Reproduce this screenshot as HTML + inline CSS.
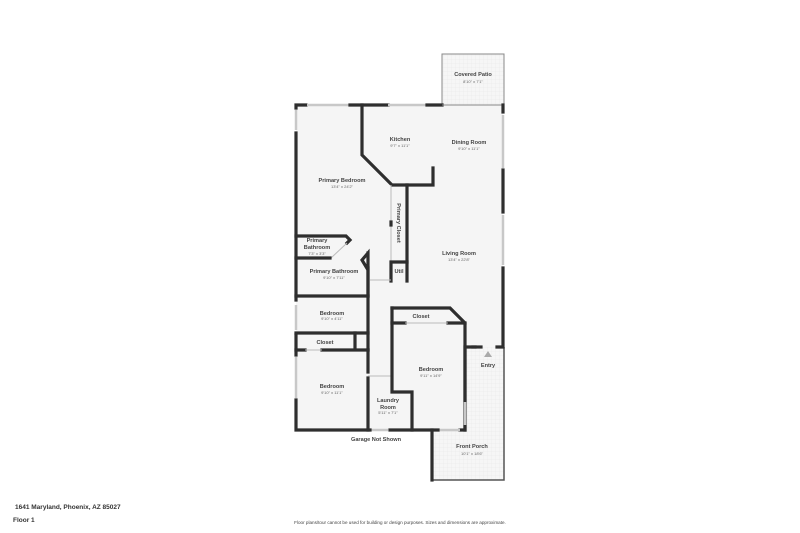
<!DOCTYPE html>
<html><head><meta charset="utf-8"><style>
html,body{margin:0;padding:0;background:#fff;width:800px;height:533px;overflow:hidden}
svg{display:block}
text{font-family:"Liberation Sans",sans-serif;fill:#444}
.t{font-size:5.6px;font-weight:bold;text-anchor:middle}
.s{font-size:4px;text-anchor:middle;fill:#666}
.w{stroke:#2e2e2e;stroke-width:3.2;fill:none;stroke-linecap:square}
.win{stroke:#c8c8c8;stroke-width:2.5}
</style></head><body>
<svg width="800" height="533" viewBox="0 0 800 533">
<defs>
<pattern id="g" width="4" height="4" patternUnits="userSpaceOnUse">
<rect width="4" height="4" fill="#f6f6f6"/><path d="M4 0V4M0 4H4" stroke="#e6e6e6" stroke-width="0.5"/>
</pattern>
</defs>
<rect x="442" y="54" width="62" height="51" fill="url(#g)" stroke="#888" stroke-width="1"/>
<rect x="432" y="347" width="72" height="133" fill="url(#g)"/>
<path d="M296 105H503V347H465V430H296Z" fill="#f5f5f5"/>
<path d="M432 430V480H504V347" stroke="#555" stroke-width="1.5" fill="none"/>
<path d="M432 430V480" class="w"/>
<path class="w" d="M296 108V105H306"/>
<path class="win" d="M307 105H350"/>
<path class="w" d="M350 105H388"/>
<path class="win" d="M388 105H426"/>
<path class="w" d="M427 105H442"/>
<path d="M442 105H503" stroke="#888" stroke-width="1"/>
<path class="w" d="M503 105V112"/>
<path class="win" d="M503 115V168"/>
<path class="w" d="M503 170V212"/>
<path class="win" d="M503 215V265"/>
<path class="w" d="M503 268V347H497"/>
<path class="w" d="M475 347H465V430H460"/>
<path class="win" d="M438 430H460"/>
<path class="w" d="M438 430H390"/>
<path class="win" d="M370 430H388"/>
<path class="w" d="M370 430H296V400"/>
<path class="win" d="M296 357V398"/>
<path class="w" d="M296 355V335"/>
<path class="win" d="M296 305V330"/>
<path class="w" d="M296 300V133"/>
<path class="win" d="M296 110V130"/>
<path class="w" d="M473 347H481" stroke="#888"/>
<polygon points="484,357 488,351 492,357" fill="#aaa"/>
<path class="w" d="M362 105V155L392 185H433V168"/>
<path class="w" d="M407 185V281"/>
<path d="M391 185V262" stroke="#bbb" stroke-width="1"/>
<path class="w" d="M391 262H407M391 262V281"/>
<path class="w" d="M391 222V225"/>
<path d="M370 280H391" stroke="#bbb" stroke-width="1"/>
<path class="w" d="M296 236H346L350 240L347 243"/>
<path d="M347 243L331 258" stroke="#bbb" stroke-width="1"/>
<path class="w" d="M296 258H330"/>
<path class="w" d="M368 253V296M362 260L368 253V270Z"/>
<path class="w" d="M368 268V350"/>
<path class="w" d="M296 296H368"/>
<path class="w" d="M296 333H368"/>
<path class="w" d="M296 350H305M322 350H368M355 333V350"/>
<path d="M305 350H322" stroke="#bbb" stroke-width="1"/>
<path class="w" d="M368 350V372M368 378V430"/>
<path d="M368 376H392" stroke="#bbb" stroke-width="1"/>
<path class="w" d="M392 308H450L465 323V430"/>
<path class="w" d="M392 308V392H412V430"/>
<path class="w" d="M392 323H405M448 323H465"/>
<path d="M405 323H448" stroke="#bbb" stroke-width="1"/>
<path class="win" d="M465 402V425"/>
<text class="t" x="473" y="76">Covered Patio</text><text class="s" x="473" y="83">8'10" x 7'1"</text>
<text class="t" x="400" y="141">Kitchen</text><text class="s" x="400" y="147">9'7" x 11'1"</text>
<text class="t" x="469" y="144">Dining Room</text><text class="s" x="469" y="150">9'10" x 11'1"</text>
<text class="t" x="342" y="182">Primary Bedroom</text><text class="s" x="342" y="188">13'4" x 24'2"</text>
<text class="t" x="459" y="255">Living Room</text><text class="s" x="459" y="261">13'4" x 22'8"</text>
<text class="t" transform="translate(397,223) rotate(90)">Primary Closet</text>
<text class="t" x="317" y="242">Primary</text><text class="t" x="317" y="249">Bathroom</text><text class="s" x="317" y="255">7'3" x 3'3"</text>
<text class="t" x="334" y="273">Primary Bathroom</text><text class="s" x="334" y="279">9'10" x 7'11"</text>
<text class="t" x="399" y="273">Util</text>
<text class="t" x="332" y="315">Bedroom</text><text class="s" x="332" y="320">9'10" x 4'11"</text>
<text class="t" x="421" y="318">Closet</text>
<text class="t" x="325" y="344">Closet</text>
<text class="t" x="431" y="371">Bedroom</text><text class="s" x="431" y="377">9'11" x 14'9"</text>
<text class="t" x="488" y="367">Entry</text>
<text class="t" x="332" y="388">Bedroom</text><text class="s" x="332" y="394">9'10" x 11'1"</text>
<text class="t" x="388" y="402">Laundry</text><text class="t" x="388" y="409">Room</text><text class="s" x="388" y="414">5'11" x 7'1"</text>
<text class="t" x="376" y="441">Garage Not Shown</text>
<text class="t" x="472" y="448">Front Porch</text><text class="s" x="472" y="455">10'1" x 18'6"</text>
<text x="15" y="509" style="font-size:6.5px;font-weight:bold;fill:#333">1641 Maryland, Phoenix, AZ 85027</text>
<text x="13" y="522" style="font-size:6.5px;font-weight:bold;fill:#333">Floor 1</text>
<text x="400" y="524" style="font-size:4.6px;fill:#444;text-anchor:middle">Floor plans/tour cannot be used for building or design purposes. Sizes and dimensions are approximate.</text>
</svg>
</body></html>
